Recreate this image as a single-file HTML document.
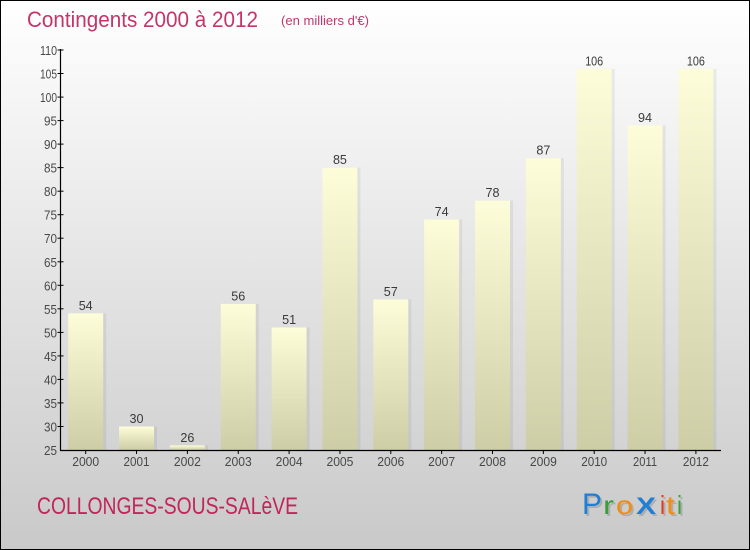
<!DOCTYPE html>
<html><head><meta charset="utf-8"><style>
html,body{margin:0;padding:0;}
body{width:750px;height:550px;overflow:hidden;}
svg{display:block;}
text{font-family:"Liberation Sans",sans-serif;}
</style></head><body>
<svg width="750" height="550" viewBox="0 0 750 550" xmlns="http://www.w3.org/2000/svg">
<defs>
<linearGradient id="bg" x1="0" y1="0" x2="0" y2="1">
<stop offset="0" stop-color="#ffffff"/>
<stop offset="1" stop-color="#c9c9c9"/>
</linearGradient>
<linearGradient id="bar" x1="0" y1="0" x2="0" y2="1">
<stop offset="0" stop-color="#fdfdd9"/>
<stop offset="1" stop-color="#cdcda6"/>
</linearGradient>
</defs>
<rect x="0.5" y="0.5" width="749" height="549" fill="url(#bg)" stroke="#000" stroke-width="1"/>

<text x="27" y="27" font-size="22" fill="#c4356a" textLength="231" lengthAdjust="spacingAndGlyphs">Contingents 2000 à 2012</text>
<text x="281" y="25" font-size="12.5" fill="#c4356a" textLength="88" lengthAdjust="spacingAndGlyphs">(en milliers d'€)</text>

<g id="bars">
<g fill="#000" fill-opacity="0.06">
<rect x="71.2" y="313.3" width="35" height="136.7"/>
<rect x="122.05" y="426.5" width="35" height="23.5"/>
<rect x="172.9" y="445.3" width="35" height="4.7"/>
<rect x="223.75" y="303.9" width="35" height="146.1"/>
<rect x="274.6" y="327.4" width="35" height="122.6"/>
<rect x="325.45" y="167.6" width="35" height="282.4"/>
<rect x="376.3" y="299.4" width="35" height="150.6"/>
<rect x="427.15" y="219.4" width="35" height="230.6"/>
<rect x="478" y="200.6" width="35" height="249.4"/>
<rect x="528.85" y="158.2" width="35" height="291.8"/>
<rect x="579.7" y="68.8" width="35" height="381.2"/>
<rect x="630.55" y="125.3" width="35" height="324.7"/>
<rect x="681.4" y="68.8" width="35" height="381.2"/>
</g>
<g fill="url(#bar)">
<rect x="68.2" y="313.3" width="35" height="136.7"/>
<rect x="119.05" y="426.5" width="35" height="23.5"/>
<rect x="169.9" y="445.3" width="35" height="4.7"/>
<rect x="220.75" y="303.9" width="35" height="146.1"/>
<rect x="271.6" y="327.4" width="35" height="122.6"/>
<rect x="322.45" y="167.6" width="35" height="282.4"/>
<rect x="373.3" y="299.4" width="35" height="150.6"/>
<rect x="424.15" y="219.4" width="35" height="230.6"/>
<rect x="475" y="200.6" width="35" height="249.4"/>
<rect x="525.85" y="158.2" width="35" height="291.8"/>
<rect x="576.7" y="68.8" width="35" height="381.2"/>
<rect x="627.55" y="125.3" width="35" height="324.7"/>
<rect x="678.4" y="68.8" width="35" height="381.2"/>
</g>
</g>

<g font-size="13" fill="#3a3a3a" text-anchor="middle">
<text x="85.7" y="310" textLength="14" lengthAdjust="spacingAndGlyphs">54</text>
<text x="136.55" y="423" textLength="14" lengthAdjust="spacingAndGlyphs">30</text>
<text x="187.4" y="441.8" textLength="14" lengthAdjust="spacingAndGlyphs">26</text>
<text x="238.25" y="300.4" textLength="14" lengthAdjust="spacingAndGlyphs">56</text>
<text x="289.1" y="323.9" textLength="14" lengthAdjust="spacingAndGlyphs">51</text>
<text x="339.95" y="164.1" textLength="14" lengthAdjust="spacingAndGlyphs">85</text>
<text x="390.8" y="295.9" textLength="14" lengthAdjust="spacingAndGlyphs">57</text>
<text x="441.65" y="215.9" textLength="14" lengthAdjust="spacingAndGlyphs">74</text>
<text x="492.5" y="197.1" textLength="14" lengthAdjust="spacingAndGlyphs">78</text>
<text x="543.35" y="154.7" textLength="14" lengthAdjust="spacingAndGlyphs">87</text>
<text x="594.2" y="65.3" textLength="18" lengthAdjust="spacingAndGlyphs">106</text>
<text x="645.05" y="121.8" textLength="14" lengthAdjust="spacingAndGlyphs">94</text>
<text x="695.9" y="65.3" textLength="18" lengthAdjust="spacingAndGlyphs">106</text>
</g>

<g stroke="#000" stroke-width="1.2">
<line x1="60.5" y1="49" x2="60.5" y2="450.5"/>
<line x1="60" y1="450.5" x2="721" y2="450.5"/>
</g>
<g stroke="#000" stroke-width="1">
<line x1="57.5" y1="50" x2="63.5" y2="50"/>
<line x1="57.5" y1="73.5" x2="63.5" y2="73.5"/>
<line x1="57.5" y1="97.1" x2="63.5" y2="97.1"/>
<line x1="57.5" y1="120.6" x2="63.5" y2="120.6"/>
<line x1="57.5" y1="144.1" x2="63.5" y2="144.1"/>
<line x1="57.5" y1="167.6" x2="63.5" y2="167.6"/>
<line x1="57.5" y1="191.2" x2="63.5" y2="191.2"/>
<line x1="57.5" y1="214.7" x2="63.5" y2="214.7"/>
<line x1="57.5" y1="238.2" x2="63.5" y2="238.2"/>
<line x1="57.5" y1="261.8" x2="63.5" y2="261.8"/>
<line x1="57.5" y1="285.3" x2="63.5" y2="285.3"/>
<line x1="57.5" y1="308.8" x2="63.5" y2="308.8"/>
<line x1="57.5" y1="332.4" x2="63.5" y2="332.4"/>
<line x1="57.5" y1="355.9" x2="63.5" y2="355.9"/>
<line x1="57.5" y1="379.4" x2="63.5" y2="379.4"/>
<line x1="57.5" y1="402.9" x2="63.5" y2="402.9"/>
<line x1="57.5" y1="426.5" x2="63.5" y2="426.5"/>
<line x1="85.7" y1="450" x2="85.7" y2="454"/>
<line x1="136.55" y1="450" x2="136.55" y2="454"/>
<line x1="187.4" y1="450" x2="187.4" y2="454"/>
<line x1="238.25" y1="450" x2="238.25" y2="454"/>
<line x1="289.1" y1="450" x2="289.1" y2="454"/>
<line x1="339.95" y1="450" x2="339.95" y2="454"/>
<line x1="390.8" y1="450" x2="390.8" y2="454"/>
<line x1="441.65" y1="450" x2="441.65" y2="454"/>
<line x1="492.5" y1="450" x2="492.5" y2="454"/>
<line x1="543.35" y1="450" x2="543.35" y2="454"/>
<line x1="594.2" y1="450" x2="594.2" y2="454"/>
<line x1="645.05" y1="450" x2="645.05" y2="454"/>
<line x1="695.9" y1="450" x2="695.9" y2="454"/>
</g>

<g font-size="13" fill="#484848" text-anchor="end">
<text x="57" y="55" textLength="17" lengthAdjust="spacingAndGlyphs">110</text>
<text x="57" y="78.5" textLength="17" lengthAdjust="spacingAndGlyphs">105</text>
<text x="57" y="102.1" textLength="17" lengthAdjust="spacingAndGlyphs">100</text>
<text x="57" y="125.6" textLength="13" lengthAdjust="spacingAndGlyphs">95</text>
<text x="57" y="149.1" textLength="13" lengthAdjust="spacingAndGlyphs">90</text>
<text x="57" y="172.6" textLength="13" lengthAdjust="spacingAndGlyphs">85</text>
<text x="57" y="196.2" textLength="13" lengthAdjust="spacingAndGlyphs">80</text>
<text x="57" y="219.7" textLength="13" lengthAdjust="spacingAndGlyphs">75</text>
<text x="57" y="243.2" textLength="13" lengthAdjust="spacingAndGlyphs">70</text>
<text x="57" y="266.8" textLength="13" lengthAdjust="spacingAndGlyphs">65</text>
<text x="57" y="290.3" textLength="13" lengthAdjust="spacingAndGlyphs">60</text>
<text x="57" y="313.8" textLength="13" lengthAdjust="spacingAndGlyphs">55</text>
<text x="57" y="337.4" textLength="13" lengthAdjust="spacingAndGlyphs">50</text>
<text x="57" y="360.9" textLength="13" lengthAdjust="spacingAndGlyphs">45</text>
<text x="57" y="384.4" textLength="13" lengthAdjust="spacingAndGlyphs">40</text>
<text x="57" y="407.9" textLength="13" lengthAdjust="spacingAndGlyphs">35</text>
<text x="57" y="431.5" textLength="13" lengthAdjust="spacingAndGlyphs">30</text>
<text x="57" y="455" textLength="13" lengthAdjust="spacingAndGlyphs">25</text>
</g>

<g font-size="13" fill="#484848" text-anchor="middle">
<text x="85.7" y="466" textLength="27" lengthAdjust="spacingAndGlyphs">2000</text>
<text x="136.55" y="466" textLength="26" lengthAdjust="spacingAndGlyphs">2001</text>
<text x="187.4" y="466" textLength="27" lengthAdjust="spacingAndGlyphs">2002</text>
<text x="238.25" y="466" textLength="27" lengthAdjust="spacingAndGlyphs">2003</text>
<text x="289.1" y="466" textLength="27" lengthAdjust="spacingAndGlyphs">2004</text>
<text x="339.95" y="466" textLength="27" lengthAdjust="spacingAndGlyphs">2005</text>
<text x="390.8" y="466" textLength="27" lengthAdjust="spacingAndGlyphs">2006</text>
<text x="441.65" y="466" textLength="27" lengthAdjust="spacingAndGlyphs">2007</text>
<text x="492.5" y="466" textLength="27" lengthAdjust="spacingAndGlyphs">2008</text>
<text x="543.35" y="466" textLength="27" lengthAdjust="spacingAndGlyphs">2009</text>
<text x="594.2" y="466" textLength="26" lengthAdjust="spacingAndGlyphs">2010</text>
<text x="645.05" y="466" textLength="24" lengthAdjust="spacingAndGlyphs">2011</text>
<text x="695.9" y="466" textLength="26" lengthAdjust="spacingAndGlyphs">2012</text>
</g>

<text x="37" y="514" font-size="24" fill="#c2255a" textLength="261" lengthAdjust="spacingAndGlyphs">COLLONGES-SOUS-SALèVE</text>

<!-- Proxiti logo -->
<g>
<g fill="#000" fill-opacity="0.15">
<text x="584" y="516" font-size="30" textLength="20" lengthAdjust="spacingAndGlyphs">P</text>
<text x="605" y="516" font-size="26" textLength="11" lengthAdjust="spacingAndGlyphs">r</text>
<text x="618" y="516" font-size="26" textLength="17" lengthAdjust="spacingAndGlyphs">o</text>
<text x="638" y="516" font-size="24" font-weight="bold" textLength="20" lengthAdjust="spacingAndGlyphs">X</text>
<text x="662" y="516" font-size="26" textLength="5" lengthAdjust="spacingAndGlyphs">i</text>
<text x="668" y="516" font-size="26" textLength="9" lengthAdjust="spacingAndGlyphs">t</text>
<text x="679" y="516" font-size="26" textLength="5" lengthAdjust="spacingAndGlyphs">i</text>
</g>
<text x="582" y="514" font-size="30" fill="#1f7fd6" textLength="20" lengthAdjust="spacingAndGlyphs">P</text>
<text x="603" y="514" font-size="26" fill="#3a9e3e" textLength="11" lengthAdjust="spacingAndGlyphs">r</text>
<text x="616" y="514" font-size="26" fill="#f28c12" textLength="17" lengthAdjust="spacingAndGlyphs">o</text>
<text x="636" y="514" font-size="24" font-weight="bold" fill="#1f7fd6" textLength="20" lengthAdjust="spacingAndGlyphs">X</text>
<text x="660" y="514" font-size="26" fill="#e4381e" textLength="5" lengthAdjust="spacingAndGlyphs">i</text>
<text x="666" y="514" font-size="26" fill="#f28c12" textLength="9" lengthAdjust="spacingAndGlyphs">t</text>
<text x="677" y="514" font-size="26" fill="#3aa040" textLength="5" lengthAdjust="spacingAndGlyphs">i</text>
</g>
</svg>
</body></html>
